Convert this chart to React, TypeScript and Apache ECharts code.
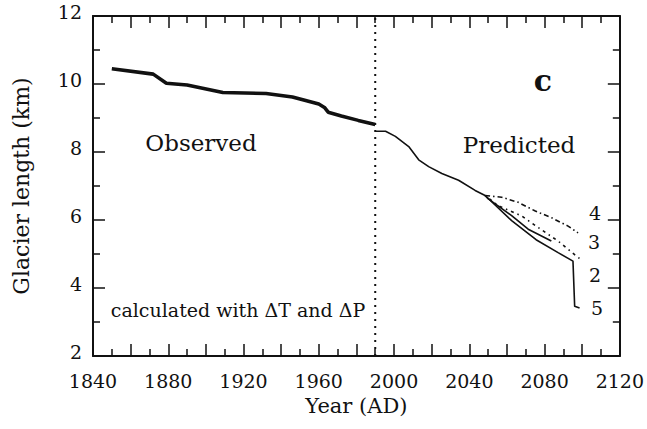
import React, { useEffect, useRef } from "react";
import * as echarts from "echarts";

// ---- data ----
const xTickLabels = [1840, 1880, 1920, 1960, 2000, 2040, 2080, 2120];
const yTickLabels = [2, 4, 6, 8, 10, 12];

const observed: [number, number][] = [
  [1850, 10.45], [1872, 10.29], [1879, 10.02], [1890, 9.97], [1909, 9.75],
  [1932, 9.72], [1946, 9.62], [1960, 9.41], [1963, 9.31], [1965, 9.17],
  [1972, 9.06], [1981, 8.93], [1990, 8.81],
];

const predictedTrunk: [number, number][] = [
  [1990, 8.61], [1995.5, 8.61], [2000.7, 8.46], [2007.8, 8.16], [2013.1, 7.77],
  [2018.4, 7.57], [2025.4, 7.37], [2034.3, 7.17], [2043.1, 6.87], [2048.4, 6.72],
];

const run4: [number, number][] = [
  [2048.4, 6.72], [2057.2, 6.67], [2066.0, 6.52], [2074.8, 6.27],
  [2083.6, 6.07], [2092.5, 5.82], [2097.8, 5.62],
];
const run3: [number, number][] = [
  [2048.4, 6.72], [2055.4, 6.42], [2067.8, 6.12], [2076.6, 5.78],
  [2087.2, 5.38], [2096.0, 4.98], [2099.5, 4.83],
];
const run2: [number, number][] = [
  [2048.4, 6.72], [2050.1, 6.62], [2062.5, 6.13], [2071.3, 5.73], [2083.6, 5.38],
];
const run5: [number, number][] = [
  [2048.4, 6.72], [2062.5, 5.98], [2075.5, 5.42], [2087.2, 5.04],
  [2095.1, 4.79], [2096.0, 3.46], [2098.6, 3.41],
];

const transitionYear = 1990;
const curveLabels = ["4", "3", "2", "5"];

const SERIF = "DejaVu Serif";
const INK = "#111";

export default function App() {
  const ref = useRef<HTMLDivElement>(null);

  useEffect(() => {
    document.body.style.margin = "0";
    if (!ref.current) return;
    const chart = echarts.init(ref.current, null, { renderer: "svg" });

    const axisLine = { show: true, onZero: false, lineStyle: { color: INK, width: 2 } };
    const axisTick = { show: true, inside: true, length: 12, lineStyle: { color: INK, width: 1.5 } };
    const minorTick = { show: true, splitNumber: 2, length: 7, lineStyle: { color: INK, width: 1.5 } };

    const xBase = { type: "value", min: 1840, max: 2120, interval: 20 };
    const yBase = { type: "value", min: 2, max: 12, interval: 2 };

    const lineSeries = (data: [number, number][], width: number, type: any = "solid") => ({
      type: "line",
      data,
      showSymbol: false,
      symbol: "none",
      lineStyle: { color: INK, width, type },
      silent: true,
    });

    const labelPos = [
      { x: 595, y: 213 },
      { x: 594, y: 242 },
      { x: 595, y: 275 },
      { x: 597, y: 308 },
    ];

    chart.setOption({
      animation: false,
      backgroundColor: "#fff",
      grid: { left: 93, top: 16, width: 529, height: 340, containLabel: false },
      xAxis: [
        {
          ...xBase,
          position: "bottom",
          axisLine,
          axisTick,
          minorTick,
          splitLine: { show: false },
          minorSplitLine: { show: false },
          axisLabel: {
            formatter: (v: number) => (xTickLabels.includes(v) ? String(v) : ""),
            margin: 15.5,
            fontFamily: SERIF,
            fontSize: 19,
            color: INK,
          },
          name: "Year (AD)",
          nameLocation: "middle",
          nameGap: 39,
          nameMoveOverlap: false,
          nameTextStyle: { fontFamily: SERIF, fontSize: 21, color: INK },
        },
        {
          ...xBase,
          position: "top",
          axisLine,
          axisTick,
          minorTick,
          splitLine: { show: false },
          axisLabel: { show: false },
        },
      ],
      yAxis: [
        {
          ...yBase,
          position: "left",
          axisLine,
          axisTick,
          minorTick,
          splitLine: { show: false },
          minorSplitLine: { show: false },
          axisLabel: {
            formatter: (v: number) => (yTickLabels.includes(v) ? `{n|${v}}` : ""),
            margin: 11,
            rich: {
              n: { fontFamily: SERIF, fontSize: 19, color: INK, padding: [0, 0, 9, 0] },
            },
          },
          name: "Glacier length (km)",
          nameLocation: "middle",
          nameGap: 61,
          nameMoveOverlap: false,
          nameTextStyle: { fontFamily: SERIF, fontSize: 22, color: INK },
        },
        {
          ...yBase,
          position: "right",
          axisLine,
          axisTick,
          minorTick,
          splitLine: { show: false },
          axisLabel: { show: false },
        },
      ],
      series: [
        lineSeries([[transitionYear, 2], [transitionYear, 12]], 2, [2, 5]),
        lineSeries(observed, 3.6),
        lineSeries(predictedTrunk, 1.6),
        lineSeries(run4, 1.6, [5, 3, 1.5, 3]),
        lineSeries(run3, 1.6, [1.5, 4, 3, 4]),
        lineSeries(run2, 1.6),
        lineSeries(run5, 1.6),
      ],
      graphic: [
        {
          type: "text", x: 201, y: 143,
          style: { text: "Observed", fontFamily: SERIF, fontSize: 23, fill: INK, align: "center", verticalAlign: "middle" },
        },
        {
          type: "text", x: 519, y: 145,
          style: { text: "Predicted", fontFamily: SERIF, fontSize: 23, fill: INK, align: "center", verticalAlign: "middle" },
        },
        {
          type: "text", x: 543, y: 80,
          style: { text: "c", fontFamily: SERIF, fontWeight: "bold", fontSize: 30, fill: INK, align: "center", verticalAlign: "middle" },
        },
        {
          type: "text", x: 238, y: 310,
          style: { text: "calculated with ΔT and ΔP", fontFamily: SERIF, fontSize: 19, fill: INK, align: "center", verticalAlign: "middle" },
        },
        ...curveLabels.map((t, i) => ({
          type: "text", x: labelPos[i].x, y: labelPos[i].y,
          style: { text: t, fontFamily: SERIF, fontSize: 19, fill: INK, align: "center", verticalAlign: "middle" },
        })),
      ],
    });

    return () => chart.dispose();
  }, []);

  return <div ref={ref} style={{ width: 647, height: 429, background: "#fff" }} />;
}
